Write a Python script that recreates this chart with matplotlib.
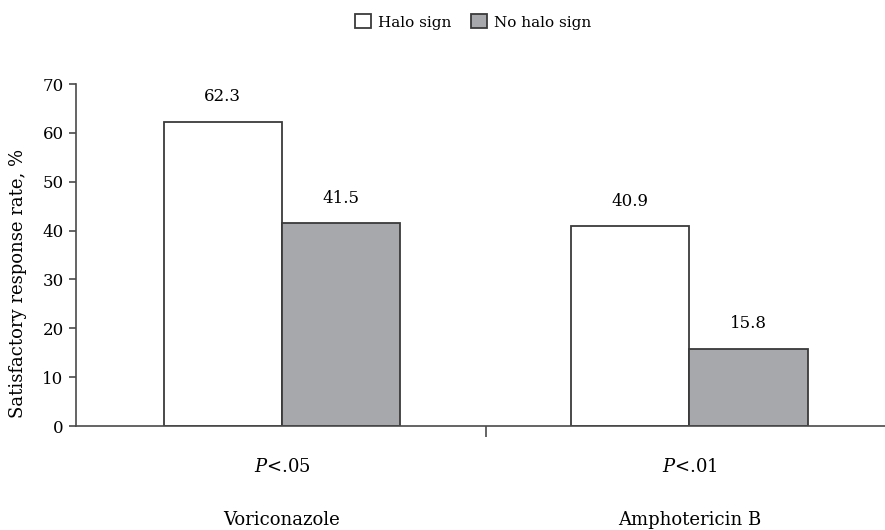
import numpy as np
import matplotlib.pyplot as plt
from matplotlib.patches import Patch

plt.rcParams['font.family'] = 'DejaVu Serif'
plt.rcParams['mathtext.fontset'] = 'custom'
plt.rcParams['mathtext.it'] = 'DejaVu Serif:italic'

drugs = ['Voriconazole', 'Amphotericin B']
p_values = ['<.05', '<.01']
halo = [62.3, 40.9]
no_halo = [41.5, 15.8]

edge = '#3a3a3a'
gray = '#a7a8ac'

fig = plt.figure(figsize=(8.85, 5.3), dpi=100)
ax = fig.add_axes([0.086, 0.196, 0.914, 0.6455])

x = np.arange(len(drugs))
w = 0.29
b1 = ax.bar(x - w / 2, halo, w, color='white', edgecolor=edge, linewidth=1.3)
b2 = ax.bar(x + w / 2, no_halo, w, color=gray, edgecolor=edge, linewidth=1.3)

for bars, vals in [(b1, halo), (b2, no_halo)]:
    for r, v in zip(bars, vals):
        ax.annotate(f'{v}', (r.get_x() + r.get_width() / 2, v), xytext=(0, 18),
                    textcoords='offset points', ha='center', va='center', fontsize=12)

ax.set_xlim(-0.505, 1.48)
ax.set_ylim(0, 70)
ax.set_yticks(range(0, 71, 10))
ax.tick_params(axis='y', direction='out', length=5, width=1.2, color='#4a4a4a', labelsize=12, pad=4)

ax.set_xticks([])
ax.set_xticks([0.5], minor=True)
ax.tick_params(axis='x', which='minor', direction='out', length=8, width=1.2, color='#4a4a4a')
ax.xaxis.set_minor_formatter(plt.NullFormatter())

for i in range(len(drugs)):
    ax.text(i, -0.12, r'$\it{P}$' + p_values[i], transform=ax.get_xaxis_transform(),
            ha='center', va='center', fontsize=13)
    ax.text(i, -0.275, drugs[i], transform=ax.get_xaxis_transform(),
            ha='center', va='center', fontsize=13)

for s in ['top', 'right']:
    ax.spines[s].set_visible(False)
for s in ['left', 'bottom']:
    ax.spines[s].set_color('#4a4a4a')
    ax.spines[s].set_linewidth(1.2)

fig.text(18 / 885, 1 - 283 / 530, 'Satisfactory response rate, %', rotation=90,
         ha='center', va='center', fontsize=13)

handles = [Patch(facecolor='white', edgecolor=edge, linewidth=1.3, label='Halo sign'),
           Patch(facecolor=gray, edgecolor=edge, linewidth=1.3, label='No halo sign')]
fig.legend(handles=handles, loc='center', bbox_to_anchor=(0.535, 1 - 22 / 530), ncol=2,
           frameon=False, fontsize=11, handlelength=1.0, handleheight=1.0,
           handletextpad=0.5, columnspacing=1.3)

fig.savefig('out.png', dpi=100)
